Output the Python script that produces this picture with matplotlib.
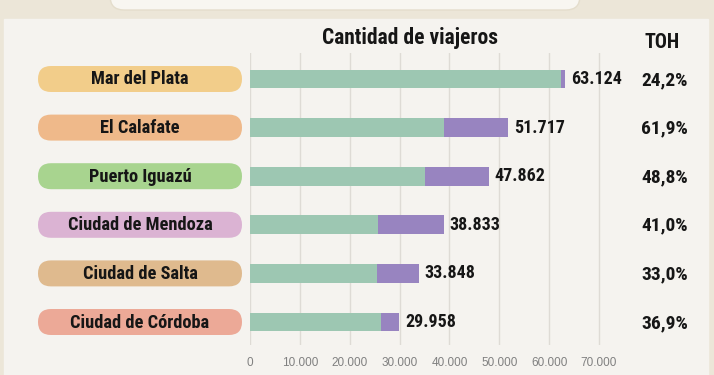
import matplotlib
matplotlib.use("Agg")
import matplotlib.pyplot as plt
from matplotlib.patches import FancyBboxPatch, Rectangle

destinos = ["Mar del Plata", "El Calafate", "Puerto Iguazú",
            "Ciudad de Mendoza", "Ciudad de Salta", "Ciudad de Córdoba"]
total = [63124, 51717, 47862, 38833, 33848, 29958]
residentes = [62300, 38850, 35100, 25600, 25400, 26200]
toh = [24.2, 61.9, 48.8, 41.0, 33.0, 36.9]
ticks = [0, 10000, 20000, 30000, 40000, 50000, 60000, 70000]

pill_colors = ["#f2cd8a", "#efb98a", "#a8d48f", "#dbb3d3", "#dfba8e", "#eca997"]
GREEN = "#9dc7b2"
PURPLE = "#9884c0"

COND = ["Roboto Condensed", "Archivo Narrow", "Asap Condensed", "Liberation Sans", "DejaVu Sans"]
REG = ["Liberation Sans", "DejaVu Sans"]
INK = "#161616"


def fmt_miles(v):
    return f"{v:,.0f}".replace(",", ".")


W, H = 714, 375
fig = plt.figure(figsize=(W / 100, H / 100), dpi=100)

# overlay in pixel coordinates for background, pills and headers
bg = fig.add_axes([0, 0, 1, 1])
bg.set_xlim(0, W)
bg.set_ylim(H, 0)
bg.axis("off")
bg.add_patch(Rectangle((0, 0), W, H, color="#ece6d8", zorder=0))
bg.add_patch(Rectangle((4, 19), 704, H, color="#f5f3ef", zorder=1))
bg.add_patch(FancyBboxPatch((110, -30), 470, 40, boxstyle="round,pad=0,rounding_size=14",
                            fc="#f8f6f1", ec="#e4ddcc", lw=1, zorder=1))

rows_px = [79 + i * 48.6 for i in range(len(destinos))]
for y, name, c in zip(rows_px, destinos, pill_colors):
    bg.add_patch(FancyBboxPatch((38, y - 13), 204, 26, boxstyle="round,pad=0,rounding_size=13",
                                fc=c, ec="none", zorder=2))
    bg.text(140, y + 0.5, name, ha="center", va="center", fontsize=13.2, fontweight="bold",
            family=COND, color=INK, zorder=3)

bg.text(410, 38, "Cantidad de viajeros", ha="center", va="center", fontsize=15.5,
        fontweight="bold", family=COND, color=INK)
bg.text(662, 42, "TOH", ha="center", va="center", fontsize=14.5,
        fontweight="bold", family=COND, color=INK)
for y, t in zip(rows_px, toh):
    bg.text(688, y + 1, f"{t:.1f}%".replace(".", ","), ha="right", va="center",
            fontsize=14, fontweight="bold", family=COND, color=INK)

# bar axes
px_per_unit = 49.86 / 10000
left, right, top, bottom = 250, 700, 53, 345
ax = fig.add_axes([left / W, 1 - bottom / H, (right - left) / W, (bottom - top) / H])
ax.patch.set_alpha(0)
ax.set_xlim(0, (right - left) / px_per_unit)
ax.set_ylim(5 + (bottom - rows_px[-1]) / 48.6, -(rows_px[0] - top) / 48.6)
for s in ax.spines.values():
    s.set_visible(False)
ax.set_yticks([])
ax.set_xticks([])
for t in ticks:
    ax.axvline(t, color="#dedbd5", lw=1, zorder=0)

ypos = list(range(len(destinos)))
no_res = [t - r for t, r in zip(total, residentes)]
ax.barh(ypos, residentes, height=0.39, color=GREEN, zorder=2)
ax.barh(ypos, no_res, left=residentes, height=0.39, color=PURPLE, zorder=2)
for y, t in zip(ypos, total):
    ax.text(t + 1200, y, fmt_miles(t), ha="left", va="center", fontsize=13,
            fontweight="bold", family=COND, color=INK)

for t in ticks:
    bg.text(left + t * px_per_unit, 363, fmt_miles(t), ha="center", va="center",
            fontsize=8.5, family=REG, color="#808080")

fig.savefig("out.png", dpi=100)
